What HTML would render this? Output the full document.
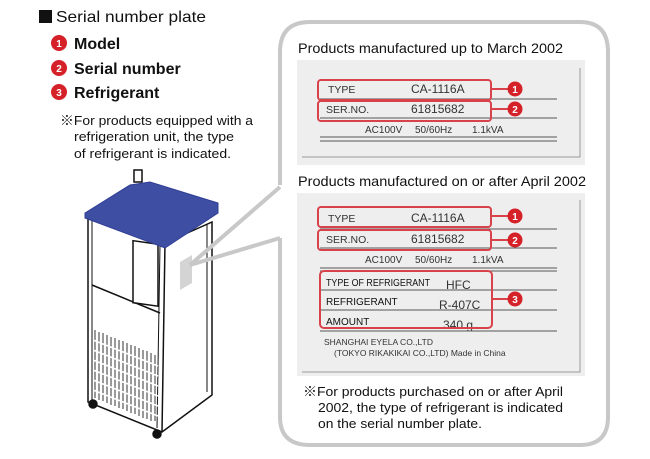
<!DOCTYPE html>
<html><head><meta charset="utf-8"><style>
html,body{margin:0;padding:0;background:#fff;}
svg{display:block;font-family:"Liberation Sans","Noto Sans CJK JP",sans-serif;}
</style></head><body>
<svg width="650" height="459" viewBox="0 0 650 459" xmlns="http://www.w3.org/2000/svg">
<!-- Legend -->
<rect x="39" y="10" width="13" height="13" fill="#111"/>
<text x="56" y="22" font-size="16" fill="#111" textLength="150" lengthAdjust="spacingAndGlyphs">Serial number plate</text>
<g font-size="16" font-weight="bold" fill="#111">
<circle cx="59" cy="43" r="8" fill="#d52128"/><text x="59" y="47" font-size="10" fill="#fff" text-anchor="middle">1</text>
<text x="74" y="49">Model</text>
<circle cx="59" cy="68" r="8" fill="#d52128"/><text x="59" y="72" font-size="10" fill="#fff" text-anchor="middle">2</text>
<text x="74" y="74">Serial number</text>
<circle cx="59" cy="92" r="8" fill="#d52128"/><text x="59" y="96" font-size="10" fill="#fff" text-anchor="middle">3</text>
<text x="74" y="98">Refrigerant</text>
</g>
<g font-size="13" fill="#111">
<text x="60" y="125" textLength="193" lengthAdjust="spacingAndGlyphs">※For products equipped with a</text>
<text x="74" y="141" textLength="160" lengthAdjust="spacingAndGlyphs">refrigeration unit, the type</text>
<text x="74" y="158" textLength="157" lengthAdjust="spacingAndGlyphs">of refrigerant is indicated.</text>
</g>

<!-- Machine -->
<g stroke="#111" stroke-width="1.5" fill="#fff">
<rect x="134" y="170" width="8" height="12" fill="#fff"/>
<polygon points="88,214 165,243 212,222 212,395 162,432 88,402"/>
<line x1="165" y1="243" x2="162" y2="432"/>
<line x1="92" y1="218" x2="92" y2="400" stroke-width="1"/>
<line x1="160" y1="245" x2="157" y2="428" stroke-width="1"/>
<line x1="207" y1="224" x2="207" y2="392" stroke-width="1"/>
<line x1="92" y1="285" x2="160" y2="313"/>
<rect x="133" y="241" width="25" height="62" transform="skewY(8) translate(0,-19)"/>
<circle cx="93" cy="404" r="4" fill="#111"/>
<circle cx="157" cy="434" r="4" fill="#111"/>
</g>
<g stroke="#333" stroke-width="1">
<path d="M95 330 v68 M99 332 v68 M103 333 v68 M107 335 v68 M111 337 v68 M115 338 v68 M119 340 v68 M123 341 v68 M127 343 v68 M131 345 v68 M135 346 v68 M139 348 v68 M143 350 v68 M147 351 v68 M151 353 v68 M155 355 v66"/>
</g>
<g stroke="#fff" stroke-width="1.6">
<path d="M93 340 L158 366 M93 350 L158 376 M93 360 L158 386 M93 370 L158 396 M93 380 L158 406 M93 390 L158 416"/>
</g>
<polygon points="85,213 130,185 150,182 218,203 218,213 165,248 85,218" fill="#3e4ea3" stroke="#2f3e94" stroke-width="1"/>
<polygon points="180,262 192,255 192,283 180,290" fill="#d4d4d4"/>

<!-- Callout -->
<path d="M280 185 L280 52 Q280 22 310 22 L580 22 Q608 22 608 52 L608 417 Q608 445 580 445 L310 445 Q280 445 280 417 L280 238" fill="none" stroke="#c8c8c8" stroke-width="4"/>
<path d="M280 187 L190 265 L280 238" fill="none" stroke="#c8c8c8" stroke-width="4"/>

<text x="298" y="53" font-size="14" fill="#111" textLength="265" lengthAdjust="spacingAndGlyphs">Products manufactured up to March 2002</text>
<rect x="297" y="60" width="288" height="105" fill="#eeeeee"/>
<path d="M580 68 V157 H302" fill="none" stroke="#999" stroke-width="1"/>
<g font-size="10.5" fill="#333">
<text x="328" y="93">TYPE</text><text x="411" y="93" font-size="12">CA-1116A</text>
<text x="326" y="113">SER.NO.</text><text x="411" y="113" font-size="12">61815682</text>
<text x="365" y="133" font-size="10">AC100V</text><text x="415" y="133" font-size="10">50/60Hz</text><text x="472" y="133" font-size="10">1.1kVA</text>
</g>
<g stroke="#555" stroke-width="1">
<line x1="320" y1="99" x2="557" y2="99"/><line x1="320" y1="118" x2="557" y2="118"/>
<line x1="320" y1="137" x2="557" y2="137"/><line x1="320" y1="141" x2="557" y2="141"/>
</g>
<g stroke="#d8434b" stroke-width="2" fill="none">
<rect x="318" y="80" width="173" height="20" rx="3"/><rect x="318" y="101" width="173" height="20" rx="3"/>
<line x1="491" y1="89" x2="508" y2="89"/><line x1="491" y1="109" x2="508" y2="109"/>
</g>
<circle cx="515" cy="89" r="7.5" fill="#d52128"/><text x="515" y="93" font-size="10" font-weight="bold" fill="#fff" text-anchor="middle">1</text>
<circle cx="515" cy="109" r="7.5" fill="#d52128"/><text x="515" y="113" font-size="10" font-weight="bold" fill="#fff" text-anchor="middle">2</text>

<text x="298" y="186" font-size="14" fill="#111" textLength="288" lengthAdjust="spacingAndGlyphs">Products manufactured on or after April 2002</text>
<rect x="297" y="193" width="288" height="183" fill="#eeeeee"/>
<path d="M580 200 V372 H302" fill="none" stroke="#999" stroke-width="1"/>
<g font-size="10.5" fill="#333">
<text x="328" y="222">TYPE</text><text x="411" y="222" font-size="12">CA-1116A</text>
<text x="326" y="243">SER.NO.</text><text x="411" y="243" font-size="12">61815682</text>
<text x="365" y="263" font-size="10">AC100V</text><text x="415" y="263" font-size="10">50/60Hz</text><text x="472" y="263" font-size="10">1.1kVA</text>
<text x="326" y="286" fill="#111" font-size="10" textLength="104" lengthAdjust="spacingAndGlyphs">TYPE OF REFRIGERANT</text><text x="446" y="289" font-size="12">HFC</text>
<text x="326" y="305" fill="#111" font-size="10">REFRIGERANT</text><text x="439" y="309" font-size="12">R-407C</text>
<text x="326" y="325" fill="#111" font-size="10">AMOUNT</text><text x="443" y="329" font-size="12">340 g</text>
<text x="324" y="345" font-size="8.5">SHANGHAI EYELA CO.,LTD</text>
<text x="334" y="356" font-size="8.5">(TOKYO RIKAKIKAI CO.,LTD)   Made in China</text>
</g>
<g stroke="#555" stroke-width="1">
<line x1="320" y1="229" x2="557" y2="229"/><line x1="320" y1="248" x2="557" y2="248"/>
<line x1="320" y1="268" x2="557" y2="268"/><line x1="320" y1="271" x2="557" y2="271"/>
<line x1="320" y1="290" x2="557" y2="290"/><line x1="320" y1="310" x2="557" y2="310"/>
<line x1="320" y1="331" x2="557" y2="331"/>
</g>
<g stroke="#d8434b" stroke-width="2" fill="none">
<rect x="318" y="207" width="173" height="20" rx="3"/><rect x="318" y="230" width="173" height="20" rx="3"/>
<rect x="320" y="271" width="172" height="57" rx="4"/>
<line x1="491" y1="216" x2="508" y2="216"/><line x1="491" y1="240" x2="508" y2="240"/><line x1="492" y1="299" x2="508" y2="299"/>
</g>
<circle cx="515" cy="216" r="7.5" fill="#d52128"/><text x="515" y="220" font-size="10" font-weight="bold" fill="#fff" text-anchor="middle">1</text>
<circle cx="515" cy="240" r="7.5" fill="#d52128"/><text x="515" y="244" font-size="10" font-weight="bold" fill="#fff" text-anchor="middle">2</text>
<circle cx="515" cy="299" r="7.5" fill="#d52128"/><text x="515" y="303" font-size="10" font-weight="bold" fill="#fff" text-anchor="middle">3</text>

<g font-size="13" fill="#111">
<text x="303" y="396" textLength="260" lengthAdjust="spacingAndGlyphs">※For products purchased on or after April</text>
<text x="318" y="412" textLength="245" lengthAdjust="spacingAndGlyphs">2002, the type of refrigerant is indicated</text>
<text x="318" y="428" textLength="164" lengthAdjust="spacingAndGlyphs">on the serial number plate.</text>
</g>
</svg>
</body></html>
